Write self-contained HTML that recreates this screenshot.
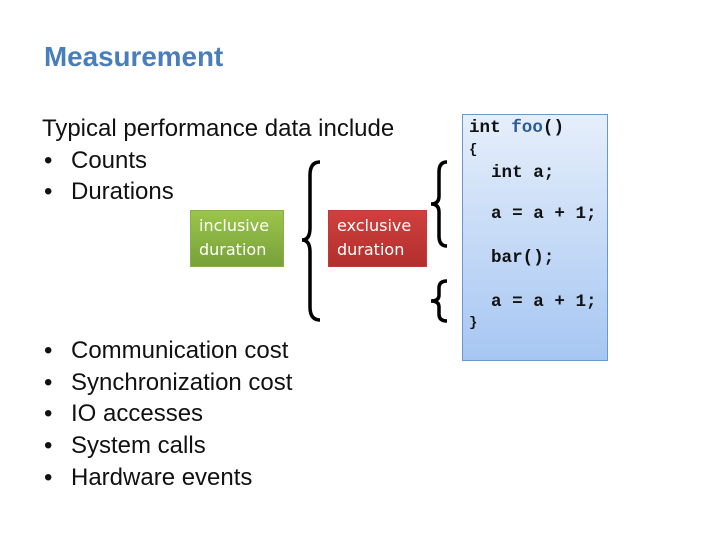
<!DOCTYPE html>
<html><head><style>
body{margin:0;width:720px;height:540px;background:#fff;position:relative;overflow:hidden;font-family:"Liberation Sans",sans-serif}
.a{position:absolute;white-space:nowrap}
.t{font-size:24px;color:#111;line-height:31.5px}
.code{font-family:"Liberation Mono",monospace;font-weight:bold;font-size:17.6px;color:#111;line-height:20px}
.box{position:absolute;color:#fff;font-family:"DejaVu Sans",sans-serif;font-size:16px;line-height:24px;padding:3px 8px;box-sizing:border-box}
</style></head><body>
<div class="a" style="left:44px;top:41px;font-size:27.8px;font-weight:bold;color:#4a7ebb">Measurement</div>
<div class="a t" style="left:42px;top:113px">Typical performance data include</div>
<div class="a t" style="left:44px;top:145px">•</div><div class="a t" style="left:71px;top:145px">Counts</div>
<div class="a t" style="left:44px;top:176px">•</div><div class="a t" style="left:71px;top:176px">Durations</div>
<div class="a t" style="left:44px;top:335px;line-height:31.7px">•<br>•<br>•<br>•<br>•</div>
<div class="a t" style="left:71px;top:335px;line-height:31.7px">Communication cost<br>Synchronization cost<br>IO accesses<br>System calls<br>Hardware events</div>
<div class="box" style="left:190px;top:210px;width:94px;height:57px;background:linear-gradient(#9bc54a,#78a13a);border:1px solid #8aae4a">inclusive<br>duration</div>
<div class="box" style="left:328px;top:210px;width:99px;height:57px;background:linear-gradient(#d0403e,#b22f2d);border:1px solid #c03a38">exclusive<br>duration</div>
<svg class="a" style="left:0;top:0" width="720" height="540">
<g fill="none" stroke="#000" stroke-width="3.5">
<path d="M320 162 Q310 162 310 175 L310 228 Q310 240 302 240 Q310 240 310 252 L310 307 Q310 320 320 320"/>
<path d="M447 162 Q439 162 439 172 L439 196 Q439 204 431 204 Q439 204 439 212 L439 236 Q439 246 447 246"/>
<path d="M447 281 Q439 281 439 288 L439 295 Q439 301 431 301 Q439 301 439 307 L439 314 Q439 321 447 321"/>
</g>
<defs><linearGradient id="g" x1="0" y1="0" x2="0" y2="1"><stop offset="0" stop-color="#e6effb"/><stop offset="1" stop-color="#a6c6f2"/></linearGradient></defs>
<rect x="462.5" y="114.5" width="145" height="246" fill="url(#g)" stroke="#6d96cc"/>
</svg>
<div class="a code" style="left:469px;top:118px">int <span style="color:#2a5a9a">foo</span>()</div>
<div class="a code" style="left:469px;top:140px;font-size:14px">{</div>
<div class="a code" style="left:491px;top:163px">int a;</div>
<div class="a code" style="left:491px;top:204px">a = a + 1;</div>
<div class="a code" style="left:491px;top:248px">bar();</div>
<div class="a code" style="left:491px;top:292px">a = a + 1;</div>
<div class="a code" style="left:469px;top:313px;font-size:14px">}</div>
</body></html>
